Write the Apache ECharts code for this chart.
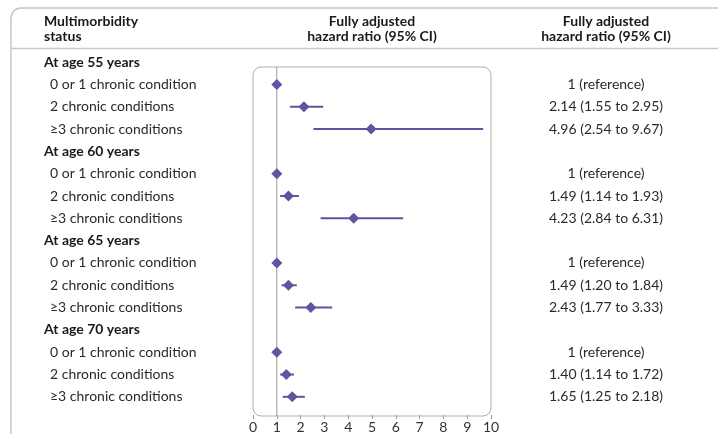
<!DOCTYPE html>
<html>
<head>
<meta charset="utf-8">
<script src="https://cdn.jsdelivr.net/npm/echarts@6/dist/echarts.min.js"></script>
<style>html,body{margin:0;padding:0;background:#fff}#c{width:718px;height:434px}</style>
</head>
<body>
<div id="c"></div>
<script>
// ---- data ----
const rowLabels = [
  'At age 55 years', '0 or 1 chronic condition', '2 chronic conditions', '≥3 chronic conditions',
  'At age 60 years', '0 or 1 chronic condition', '2 chronic conditions', '≥3 chronic conditions',
  'At age 65 years', '0 or 1 chronic condition', '2 chronic conditions', '≥3 chronic conditions',
  'At age 70 years', '0 or 1 chronic condition', '2 chronic conditions', '≥3 chronic conditions'
];
const groupRows = [0, 4, 8, 12];
const hazardRatio = [null, 1, 2.14, 4.96, null, 1, 1.49, 4.23, null, 1, 1.49, 2.43, null, 1, 1.40, 1.65];
const ciLower = [null, null, 1.55, 2.54, null, null, 1.14, 2.84, null, null, 1.20, 1.77, null, null, 1.14, 1.25];
const ciUpper = [null, null, 2.95, 9.67, null, null, 1.93, 6.31, null, null, 1.84, 3.33, null, null, 1.72, 2.18];
const ciText = [
  '', '1 (reference)', '2.14 (1.55 to 2.95)', '4.96 (2.54 to 9.67)',
  '', '1 (reference)', '1.49 (1.14 to 1.93)', '4.23 (2.84 to 6.31)',
  '', '1 (reference)', '1.49 (1.20 to 1.84)', '2.43 (1.77 to 3.33)',
  '', '1 (reference)', '1.40 (1.14 to 1.72)', '1.65 (1.25 to 2.18)'
];
const xTicks = [0, 10, 1]; // min, max, interval
const headers = ['Multimorbidity\nstatus', 'Fully adjusted\nhazard ratio (95% CI)', 'Fully adjusted\nhazard ratio (95% CI)'];

// ---- chart ----
const FONT = 'Lato';
const PURPLE = '#6650a2';
const chart = echarts.init(document.getElementById('c'), null, {renderer: 'canvas'});

const pointData = [];
const ciData = [];
hazardRatio.forEach((v, i) => {
  if (v != null) pointData.push([v, i]);
  if (ciLower[i] != null) ciData.push([ciLower[i], ciUpper[i], i]);
});

const option = {
  animation: false,
  backgroundColor: '#fff',
  textStyle: {fontFamily: FONT},
  grid: {left: 253, right: 227, top: 51, bottom: 25},
  xAxis: {
    type: 'value', min: xTicks[0], max: xTicks[1], interval: xTicks[2],
    offset: 7,
    axisLine: {show: false},
    splitLine: {show: false},
    axisTick: {show: true, length: 4, lineStyle: {color: '#999', width: 1}},
    axisLabel: {fontFamily: FONT, fontSize: 14, color: '#333', margin: 5}
  },
  yAxis: [{
    type: 'category', inverse: true, data: rowLabels,
    axisLine: {show: false}, axisTick: {show: false}, splitLine: {show: false},
    axisLabel: {
      interval: 0, align: 'left', margin: 209,
      formatter: (val, idx) => groupRows.includes(idx) ? '{g|' + val + '}' : '{i|' + val + '}',
      rich: {
        g: {fontFamily: FONT, fontSize: 14, fontWeight: 'bold', color: '#1a1a1a'},
        i: {fontFamily: FONT, fontSize: 14, color: '#2a2a2a', padding: [0, 0, 0, 6]}
      }
    }
  }, {
    type: 'category', inverse: true, position: 'right', data: ciText,
    axisLine: {show: false}, axisTick: {show: false}, splitLine: {show: false},
    axisLabel: {interval: 0, align: 'center', margin: 115, fontFamily: FONT, fontSize: 14, color: '#2a2a2a'}
  }],
  series: [{
    type: 'custom',
    data: ciData,
    encode: {x: [0, 1], y: 2},
    z: 3,
    renderItem: (params, api) => {
      const a = api.coord([api.value(0), api.value(2)]);
      const b = api.coord([api.value(1), api.value(2)]);
      return {type: 'line', shape: {x1: a[0], y1: a[1], x2: b[0], y2: b[1]},
        style: {stroke: PURPLE, lineWidth: 2}};
    }
  }, {
    type: 'scatter',
    data: pointData,
    symbol: 'diamond',
    symbolSize: [11, 11],
    itemStyle: {color: PURPLE, opacity: 1},
    z: 4
  }]
};
chart.setOption(option);

// decorations derived from axis positions
const p0 = chart.convertToPixel({gridIndex: 0}, [0, 0]);
const p10 = chart.convertToPixel({gridIndex: 0}, [10, 0]);
const p1 = chart.convertToPixel({gridIndex: 0}, [1, 0]);
const boxTop = 67, boxBottom = 416;
const midX = (p0[0] + p10[0]) / 2;
const hdrStyle = {fontFamily: FONT, fontSize: 14, fontWeight: 'bold', fill: '#1a1a1a', lineHeight: 15};
chart.setOption({
  graphic: [
    {type: 'rect', shape: {x: 11, y: 8, width: 900, height: 600, r: 10}, style: {fill: 'none', stroke: '#c6c6c6', lineWidth: 1.5}, silent: true},
    {type: 'line', shape: {x1: 11, y1: 48.5, x2: 718, y2: 48.5}, style: {stroke: '#c6c6c6', lineWidth: 1.5}, silent: true},
    {type: 'rect', shape: {x: p0[0], y: boxTop, width: p10[0] - p0[0], height: boxBottom - boxTop, r: 8}, style: {fill: 'none', stroke: '#b0b0b0', lineWidth: 1}, z: 1, silent: true},
    {type: 'line', shape: {x1: p1[0], y1: boxTop, x2: p1[0], y2: boxBottom}, style: {stroke: '#9a9a9a', lineWidth: 1}, z: 2, silent: true},
    {type: 'text', x: 44, y: 14, style: Object.assign({text: headers[0], align: 'left'}, hdrStyle)},
    {type: 'text', x: midX, y: 14, style: Object.assign({text: headers[1], align: 'center'}, hdrStyle)},
    {type: 'text', x: 606, y: 14, style: Object.assign({text: headers[2], align: 'center'}, hdrStyle)}
  ]
});
</script>
</body>
</html>
